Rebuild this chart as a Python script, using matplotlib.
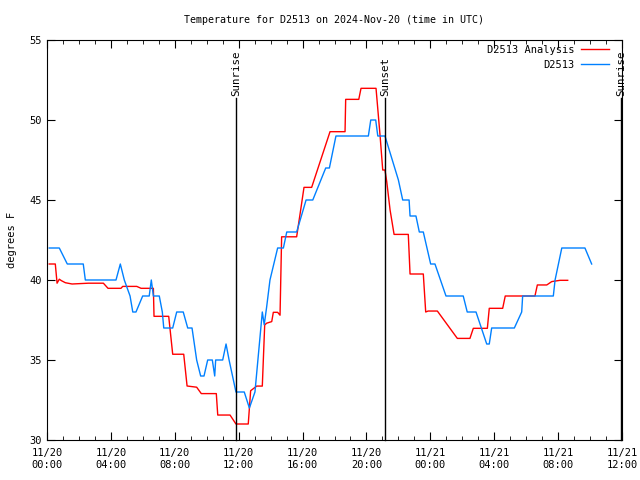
import matplotlib
matplotlib.use('Agg')
import matplotlib.pyplot as plt

# hours since 2024-11-20 00:00 UTC
blue_t = [0.14, 0.77, 1.27, 2.27, 2.40, 4.32, 4.59, 4.84, 5.20, 5.37, 5.57, 5.99, 6.40, 6.53, 6.66,
          7.03, 7.22, 7.31, 7.87, 8.12, 8.53, 8.81, 9.08, 9.37, 9.62, 9.83, 10.06, 10.35, 10.50, 10.56,
          11.00, 11.21, 11.40, 11.83, 12.35, 12.67, 13.02, 13.48, 13.60, 13.75, 13.96, 14.44, 14.80,
          15.01, 15.63, 16.22, 16.64, 17.45, 17.68, 18.09, 20.12, 20.27, 20.58, 20.71, 21.16, 22.00,
          22.27, 22.67, 22.73, 23.10, 23.31, 23.56, 24.02, 24.29, 24.98, 26.06, 26.31, 26.86, 27.53,
          27.69, 27.84, 29.26, 29.72, 29.78, 31.70, 31.81, 32.23, 33.68, 34.10]
blue_v = [42, 42, 41, 41, 40, 40, 41, 40, 39, 38, 38, 39, 39, 40, 39,
          39, 38, 37, 37, 38, 38, 37, 37, 35, 34, 34, 35, 35, 34, 35,
          35, 36, 35, 33, 33, 32, 33, 38, 37.2, 38.3, 40, 42, 42,
          43, 43, 45, 45, 47, 47, 49, 49, 50, 50, 49, 49, 46.25,
          45, 45, 44, 44, 43, 43, 41, 41, 39, 39, 38, 38, 36,
          36, 37, 37, 38, 39, 39, 40, 42, 42, 41]

red_t = [0.14, 0.52, 0.63, 0.77, 0.90, 1.15, 1.57, 2.59, 3.53, 3.82, 4.63, 4.74, 5.62, 5.89, 6.66,
         6.70, 7.62, 7.87, 8.56, 8.77, 9.37, 9.66, 10.60, 10.69, 11.46, 11.83, 12.60, 12.75, 13.13,
         13.48, 13.63, 13.75, 14.07, 14.17, 14.44, 14.59, 14.69, 15.63, 15.90, 16.09, 16.57, 17.72,
         18.66, 18.70, 19.52, 19.66, 20.60, 20.85, 21.02, 21.16, 21.27, 21.48, 21.73, 22.62, 22.73,
         23.56, 23.71, 23.86, 24.44, 25.69, 26.48, 26.69, 27.57, 27.69, 28.53, 28.69, 30.55, 30.70,
         31.29, 31.60, 32.12, 32.60]
red_v = [41, 41, 39.8, 40.05, 39.96, 39.83, 39.75, 39.8, 39.8, 39.48, 39.48, 39.6, 39.6, 39.48, 39.48,
         37.73, 37.73, 35.36, 35.36, 33.375, 33.3, 32.9, 32.9, 31.56, 31.56, 31.0, 31.0, 33.08, 33.37,
         33.37, 37.19, 37.3, 37.4, 37.98, 37.98, 37.8, 42.7, 42.7, 44.5, 45.79, 45.79, 49.27,
         49.27, 51.29, 51.29, 51.98, 51.98, 49.06, 46.875, 46.875, 46.15, 44.375, 42.85, 42.85, 40.375,
         40.375, 38.0, 38.06, 38.06, 36.35, 36.35, 36.98, 36.98, 38.23, 38.23, 39.0, 39.0, 39.69,
         39.69, 39.9, 39.98, 39.98]

sun_t = [11.83, 21.16, 35.94]
sun_lbl = ['Sunrise', 'Sunset', 'Sunrise']

xticks = [0, 4, 8, 12, 16, 20, 24, 28, 32, 36]
xlabels = ['11/20\n00:00', '11/20\n04:00', '11/20\n08:00', '11/20\n12:00', '11/20\n16:00',
           '11/20\n20:00', '11/21\n00:00', '11/21\n04:00', '11/21\n08:00', '11/21\n12:00']

plt.rcParams['font.family'] = 'DejaVu Sans Mono'
plt.rcParams['font.size'] = 7

fig = plt.figure(figsize=(6.4, 4.8), dpi=100)
ax = fig.add_axes([47/640, 40/480, 575/640, 400/480])

ax.plot(red_t, red_v, color='#ff0000', lw=1, label='D2513 Analysis')
ax.plot(blue_t, blue_v, color='#0080ff', lw=1, label='D2513')

for t, s in zip(sun_t, sun_lbl):
    ax.plot([t, t], [30, 51.4], color='black', lw=1, clip_on=False)
    ax.text(t, 51.5, s, rotation=90, ha='center', va='bottom', fontsize=7.8, clip_on=False)

ax.set_xlim(0, 36)
ax.set_ylim(30, 55)
ax.set_xticks(xticks)
ax.set_xticklabels(xlabels)
ax.set_xticks(range(0, 37), minor=True)
ax.set_yticks([30, 35, 40, 45, 50, 55])
ax.tick_params(which='both', direction='in', top=True, right=True, labelsize=7.5)
ax.tick_params(which='major', length=6)
ax.tick_params(which='minor', length=3)
ax.tick_params(axis='x', pad=6)

ax.set_title('Temperature for D2513 on 2024-Nov-20 (time in UTC)', fontsize=7.2, pad=12)
ax.set_ylabel('degrees F', fontsize=7.5, labelpad=9)

leg = ax.legend(loc='upper right', bbox_to_anchor=(0.984, 0.998), frameon=False, markerfirst=False,
                fontsize=7.5, handlelength=2.7, handletextpad=0.6, borderaxespad=0.0,
                labelspacing=0.45)
for txt in leg.get_texts():
    txt.set_ha('right')

fig.savefig('out.png', dpi=100)
